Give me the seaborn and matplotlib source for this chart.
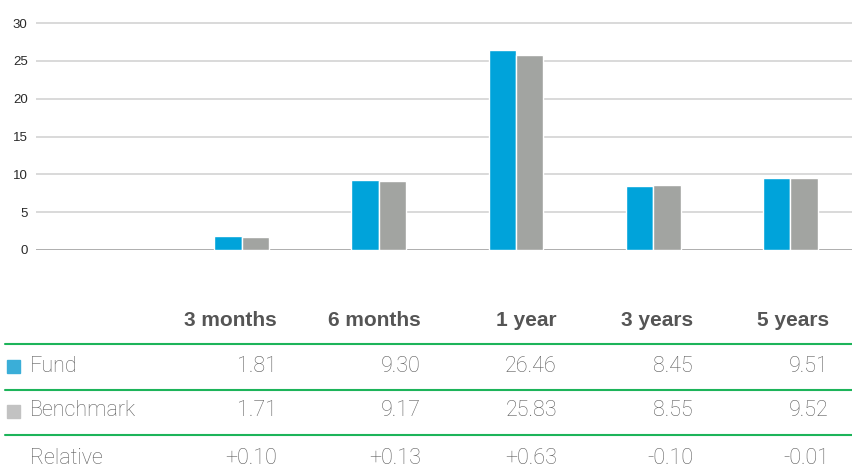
import matplotlib
matplotlib.use("Agg")
import matplotlib.pyplot as plt
import seaborn as sns
import pandas as pd
from matplotlib.lines import Line2D
from matplotlib.patches import Rectangle

periods = ["3 months", "6 months", "1 year", "3 years", "5 years"]
fund = [1.81, 9.30, 26.46, 8.45, 9.51]
benchmark = [1.71, 9.17, 25.83, 8.55, 9.52]
relative = ["+0.10", "+0.13", "+0.63", "-0.10", "-0.01"]
y_ticks = [0, 5, 10, 15, 20, 25, 30]

fund_color = "#00A3DA"
bench_color = "#A2A4A1"
text_color = "#5e5e5e"
head_color = "#555555"
green = "#1DB45A"

sns.set_theme(style="white")
plt.rcParams["font.family"] = ["Roboto", "DejaVu Sans"]

W, H = 852, 474
fig = plt.figure(figsize=(W / 100, H / 100), dpi=100)

def fx(px):
    return px / W

def fy(py):
    return 1 - py / H

ymax = 30.4
ppu = (250 - 23) / 30.0
top_px = 250 - ymax * ppu
ax = fig.add_axes([fx(36), fy(250), fx(852) - fx(36), (250 - top_px) / H])

df = pd.DataFrame({
    "period": periods * 2,
    "value": fund + benchmark,
    "series": ["Fund"] * len(periods) + ["Benchmark"] * len(periods),
})
sns.barplot(data=df, x="period", y="value", hue="series", order=periods,
            hue_order=["Fund", "Benchmark"],
            palette={"Fund": fund_color, "Benchmark": bench_color},
            width=0.4, gap=0, saturation=1, ax=ax, legend=False)

ax.set_xlim(-1.5, 4.45)
ax.set_ylim(0, ymax)
ax.set_yticks(y_ticks)
ax.set_yticklabels([str(t) for t in y_ticks], fontsize=9.5, color="#2a2a2a",
                   family=["Liberation Sans", "DejaVu Sans"])
ax.set_xticks([])
ax.set_xlabel("")
ax.set_ylabel("")
for s in ax.spines.values():
    s.set_visible(False)
for t in y_ticks:
    ax.axhline(t, color="#a8a8a8" if t == 0 else "#cfcfcf", lw=1.3 if t == 0 else 1.1, zorder=0)
ax.tick_params(axis="y", length=0, pad=6)

# Table
col_right = [277, 421, 557, 693, 829]
for x, p in zip(col_right, periods):
    fig.text(fx(x), fy(321), p, ha="right", va="center", fontsize=15,
             fontweight="bold", color=head_color,
             family=["Liberation Sans", "DejaVu Sans"])

for yl in [344, 390, 435]:
    fig.add_artist(Line2D([fx(5), fx(852)], [fy(yl), fy(yl)], color=green, lw=1.5))

rows = [("Fund", fund, 366, "#3AAED8"),
        ("Benchmark", benchmark, 411, "#C2C2C2"),
        ("Relative", relative, 458, None)]
for label, vals, y, sq in rows:
    if sq:
        fig.add_artist(Rectangle((fx(7), fy(y + 6.5)), fx(12.5), 12.5 / H,
                                 color=sq, transform=fig.transFigure))
    fig.text(fx(30), fy(y), label, ha="left", va="center", fontsize=15.5,
             fontweight="light", color=text_color)
    for x, v in zip(col_right, vals):
        s = v if isinstance(v, str) else f"{v:.2f}"
        fig.text(fx(x), fy(y), s, ha="right", va="center", fontsize=15.5,
                 fontweight="light", color=text_color)

fig.savefig("out.png", dpi=100)
